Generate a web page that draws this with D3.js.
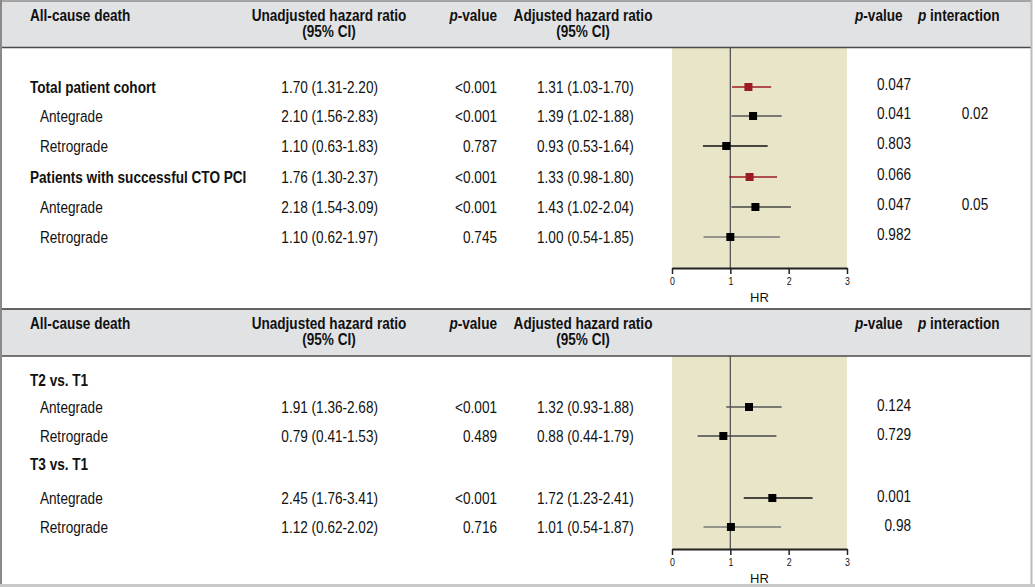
<!DOCTYPE html>
<html>
<head>
<meta charset="utf-8">
<script src="https://cdn.jsdelivr.net/npm/d3@7"></script>
<style>
  html, body { margin: 0; padding: 0; background: #fff; }
  svg { display: block; font-family: "Liberation Sans", Arial, sans-serif; }
</style>
</head>
<body>
<svg id="chart" width="1035" height="587"></svg>
<script>
// ---------- Data: all-cause death, total cohort and successful CTO PCI ----------
const cohortLabels = ["Total patient cohort", "Antegrade", "Retrograde",
                      "Patients with successful CTO PCI", "Antegrade", "Retrograde"];
const cohortIsGroup = [true, false, false, true, false, false];
const cohortUnadjHR = [1.70, 2.10, 1.10, 1.76, 2.18, 1.10];
const cohortUnadjLo = [1.31, 1.56, 0.63, 1.30, 1.54, 0.62];
const cohortUnadjHi = [2.20, 2.83, 1.83, 2.37, 3.09, 1.97];
const cohortUnadjP  = ["<0.001", "<0.001", "0.787", "<0.001", "<0.001", "0.745"];
const cohortAdjHR   = [1.31, 1.39, 0.93, 1.33, 1.43, 1.00];
const cohortAdjLo   = [1.03, 1.02, 0.53, 0.98, 1.02, 0.54];
const cohortAdjHi   = [1.70, 1.88, 1.64, 1.80, 2.04, 1.85];
const cohortAdjP    = ["0.047", "0.041", "0.803", "0.066", "0.047", "0.982"];
const cohortPInter  = ["", "0.02", "", "", "0.05", ""];

// ---------- Data: all-cause death by tertile ----------
const tertileLabels = ["T2 vs. T1", "Antegrade", "Retrograde", "T3 vs. T1", "Antegrade", "Retrograde"];
const tertileIsGroup = [true, false, false, true, false, false];
const tertileUnadjHR = [null, 1.91, 0.79, null, 2.45, 1.12];
const tertileUnadjLo = [null, 1.36, 0.41, null, 1.76, 0.62];
const tertileUnadjHi = [null, 2.68, 1.53, null, 3.41, 2.02];
const tertileUnadjP  = ["", "<0.001", "0.489", "", "<0.001", "0.716"];
const tertileAdjHR   = [null, 1.32, 0.88, null, 1.72, 1.01];
const tertileAdjLo   = [null, 0.93, 0.44, null, 1.23, 0.54];
const tertileAdjHi   = [null, 1.88, 1.79, null, 2.41, 1.87];
const tertileAdjP    = ["", "0.124", "0.729", "", "0.001", "0.98"];
const tertilePInter  = ["", "", "", "", "", ""];

const hrTicks = [0, 1, 2, 3];
const headerTitle = "All-cause death";

// ---------- Styling ----------
const HEADER_BG = "#e1e2e4";
const SHADE = "#e9e5c9";
const RED = "#9b1b22";
const INK = "#111";
const NARROW = 0.8;          // horizontal squeeze giving a condensed face
const FS = 17;
const cohortLineColor  = [RED, "#555", "#111", RED, "#444", "#777"];
const tertileLineColor = [null, "#555", "#444", null, "#111", "#777"];

const svg = d3.select("#chart");
const fmt = d3.format(".2f");
const hrText = (h, lo, hi) => `${fmt(h)} (${fmt(lo)}-${fmt(hi)})`;
const squeeze = (x, y) => `translate(${x},${y}) scale(${NARROW},1)`;

// forest-plot horizontal scale
const x = d3.scaleLinear().domain([0, 3]).range([672, 847]);

function rows(labels, isGroup, uH, uL, uU, uP, aH, aL, aU, aP, pI, lineColor) {
  return labels.map((label, i) => ({
    label, group: isGroup[i],
    unadj: uH[i] == null ? "" : hrText(uH[i], uL[i], uU[i]),
    unadjP: uP[i],
    hr: aH[i], lo: aL[i], hi: aU[i],
    adj: aH[i] == null ? "" : hrText(aH[i], aL[i], aU[i]),
    adjP: aP[i], pInter: pI[i],
    color: lineColor[i]
  }));
}

function headText(g, x, y, anchor, parts) {
  const t = g.append("text").attr("transform", squeeze(x, y)).attr("text-anchor", anchor);
  parts.forEach(([s, italic]) => t.append("tspan").attr("font-style", italic ? "italic" : null).text(s));
}

function drawHeader(top) {
  const g = svg.append("g").attr("transform", `translate(0,${top})`);
  g.append("rect").attr("x", 0).attr("y", 0).attr("width", 1032).attr("height", 47).attr("fill", HEADER_BG);
  const t = g.append("g").attr("font-size", FS).attr("font-weight", "bold").attr("fill", INK);
  headText(t, 30, 20, "start", [[headerTitle]]);
  headText(t, 329, 20, "middle", [["Unadjusted hazard ratio"]]);
  headText(t, 329, 36, "middle", [["(95% CI)"]]);
  headText(t, 497, 20, "end", [["p", true], ["-value"]]);
  headText(t, 583, 20, "middle", [["Adjusted hazard ratio"]]);
  headText(t, 583, 36, "middle", [["(95% CI)"]]);
  headText(t, 855, 20, "start", [["p", true], ["-value"]]);
  headText(t, 918, 20, "start", [["p", true], [" interaction"]]);
}

function drawPanel(data, cfg) {
  // vertical placement of table rows
  const y = d3.scaleLinear().domain(d3.range(data.length)).range(cfg.rowY);
  const g = svg.append("g");

  // shaded forest-plot area
  g.append("rect").attr("x", x(0)).attr("y", cfg.top).attr("width", x(3) - x(0))
    .attr("height", cfg.axisY - cfg.top).attr("fill", SHADE);
  // line of no effect
  g.append("line").attr("x1", x(1)).attr("x2", x(1)).attr("y1", cfg.top).attr("y2", cfg.axisY)
    .attr("stroke", "#555").attr("stroke-width", 1.3);

  // axis
  const ax = g.append("g").attr("transform", `translate(0,${cfg.axisY})`)
    .call(d3.axisBottom(x).tickValues(hrTicks).tickFormat(d3.format("d")).tickSize(6).tickSizeOuter(0));
  ax.select(".domain").attr("stroke", "#222").attr("stroke-width", 2);
  ax.selectAll(".tick line").attr("stroke", "#222").attr("stroke-width", 1.5);
  ax.selectAll(".tick text").attr("font-size", 11).attr("fill", INK)
    .attr("font-family", "Liberation Sans, Arial, sans-serif")
    .attr("y", null).attr("dy", null).attr("transform", squeeze(0, 17));
  g.append("text").attr("x", x(1.5)).attr("y", cfg.axisY + 34).attr("text-anchor", "middle")
    .attr("font-size", 13).attr("fill", INK).text("HR");

  const row = g.selectAll("g.row").data(data).join("g").attr("class", "row")
    .attr("transform", (d, i) => `translate(0,${y(i)})`)
    .attr("font-size", FS).attr("fill", INK);

  const cell = (sel, px, py, anchor, get) => sel.append("text")
    .attr("transform", typeof px === "function" ? d => squeeze(px(d), py) : squeeze(px, py))
    .attr("dy", "0.35em").attr("text-anchor", anchor).text(get);

  cell(row, d => d.group ? 30 : 40, 0, "start", d => d.label)
    .attr("font-weight", d => d.group ? "bold" : "normal");
  cell(row, 378, 0, "end", d => d.unadj);
  cell(row, 497, 0, "end", d => d.unadjP);
  cell(row, 537, 0, "start", d => d.adj);
  cell(row, 911, cfg.pShift, "end", d => d.adjP);
  cell(row, 975, cfg.pShift, "middle", d => d.pInter);

  const marks = row.filter(d => d.hr != null);
  marks.append("line").attr("x1", d => x(d.lo)).attr("x2", d => x(d.hi))
    .attr("stroke", d => d.color).attr("stroke-width", 1.5);
  marks.append("rect").attr("x", d => x(d.hr) - 4).attr("y", -4).attr("width", 8).attr("height", 8)
    .attr("fill", d => d.group ? RED : "#000");
}

const cohort = rows(cohortLabels, cohortIsGroup, cohortUnadjHR, cohortUnadjLo, cohortUnadjHi, cohortUnadjP,
                    cohortAdjHR, cohortAdjLo, cohortAdjHi, cohortAdjP, cohortPInter, cohortLineColor);
const tertile = rows(tertileLabels, tertileIsGroup, tertileUnadjHR, tertileUnadjLo, tertileUnadjHi, tertileUnadjP,
                     tertileAdjHR, tertileAdjLo, tertileAdjHi, tertileAdjP, tertilePInter, tertileLineColor);

drawHeader(1);
drawHeader(309);
drawPanel(cohort,  { top: 48,  axisY: 268, rowY: [87, 116, 146, 177, 207, 237], pShift: -3 });
drawPanel(tertile, { top: 356, axisY: 549, rowY: [380, 407, 436, 464, 498, 527], pShift: -2 });

// rules and frame
const rule = (x1, y1, x2, y2, c, w) => svg.append("line").attr("x1", x1).attr("y1", y1).attr("x2", x2).attr("y2", y2)
  .attr("stroke", c).attr("stroke-width", w);
rule(0, 1, 1032, 1, "#8a8a8a", 1.5);
rule(0, 47.5, 1032, 47.5, "#4a4a4a", 1.5);
rule(0, 309, 1032, 309, "#333", 1.5);
rule(0, 356, 1032, 356, "#4a4a4a", 1.5);
rule(1, 0, 1, 586, "#8a8a8a", 2);
rule(1031.5, 0, 1031.5, 586, "#bbb", 2);
rule(0, 585.5, 1035, 585.5, "#c8c8c8", 3);
</script>
</body>
</html>
